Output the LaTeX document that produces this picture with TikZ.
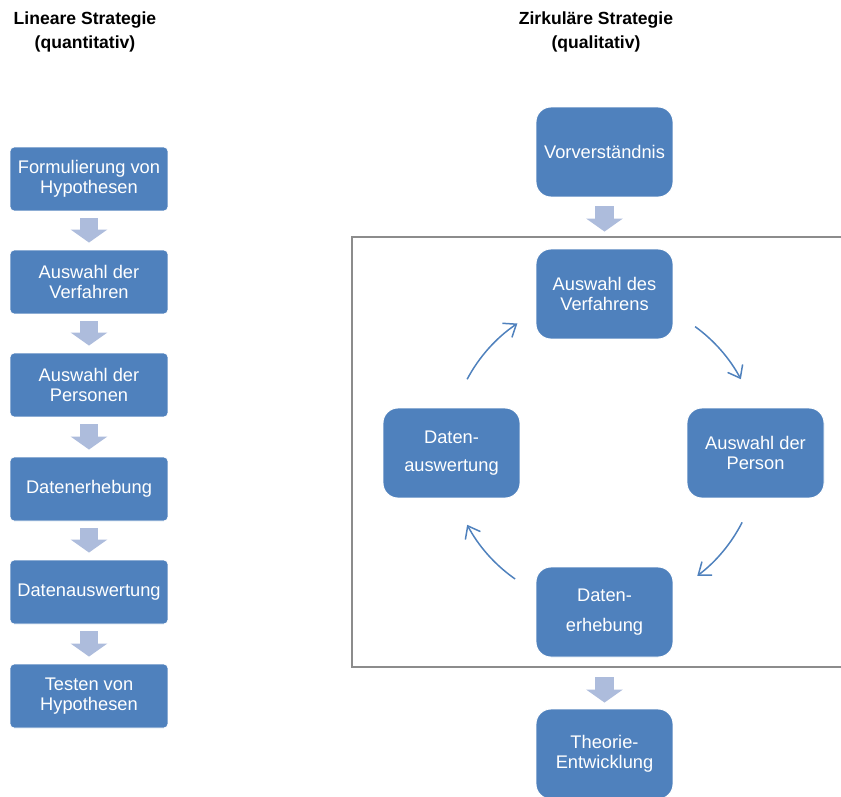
\documentclass[tikz,border=0pt]{standalone}
\usepackage{fontspec}
\setmainfont{Liberation Sans}
\usetikzlibrary{arrows.meta}
\definecolor{boxblue}{HTML}{4F81BD}
\definecolor{arrowblue}{HTML}{ADBCDC}
\definecolor{framegray}{HTML}{8C8C8C}

\begin{document}
\begin{tikzpicture}[x=0.02cm, y=0.02cm, >={Straight Barb[length=2.2mm, width=3.4mm]},
    linbox/.style={draw=white, line width=0.5pt, fill=boxblue, text=white, rounded corners=0.08cm,
        minimum width=3.16cm, minimum height=1.28cm, inner sep=0pt, align=center,
        font=\fontsize{10.4}{11.2}\selectfont},
    cycbox/.style={linbox, rounded corners=0.3cm, minimum width=2.74cm, minimum height=1.8cm},
    blockarrow/.style={draw=arrowblue, line width=0.38cm, -{Triangle[length=0.26cm, width=0.72cm]},
        shorten <=0.14cm, shorten >=0.14cm},
    cycarrow/.style={->, boxblue, line width=0.85pt},
    title/.style={align=center, font=\bfseries\fontsize{10}{13.6}\selectfont}
]
    \clip (0,0) rectangle (841,796);

    % Headings
    \node[title] (linhead) at (85,764) {Lineare Strategie\\(quantitativ)};
    \node[title] (cychead) at (596,764) {Zirkuläre Strategie\\(qualitativ)};

    % Linear strategy, top to bottom
    \node[linbox] (hypo)  at (89,617) {Formulierung von\\Hypothesen};
    \node[linbox] (verf)  at (89,514) {Auswahl der\\Verfahren};
    \node[linbox] (pers)  at (89,411) {Auswahl der\\Personen};
    \node[linbox] (erheb) at (89,307) {Datenerhebung};
    \node[linbox] (ausw)  at (89,204) {Datenauswertung};
    \node[linbox] (test)  at (89,100) {Testen von\\Hypothesen};
    \foreach \a/\b in {hypo/verf, verf/pers, pers/erheb, erheb/ausw, ausw/test}
        \draw[blockarrow] (\a) -- (\b);

    % Circular strategy
    \draw[framegray, line width=0.85pt] (352,129) rectangle (900,559);
    \node[cycbox] (vorv)   at (604.5,644) {Vorverständnis};
    \node[cycbox] (cverf)  at (604.5,502) {Auswahl des\\Verfahrens};
    \node[cycbox] (cpers)  at (755.5,343) {Auswahl der\\Person};
    \node[cycbox] (cerheb) at (604.5,184) {Daten-\\[5.5pt]erhebung};
    \node[cycbox] (causw)  at (451.5,343) {Daten-\\[4.5pt]auswertung};
    \node[cycbox] (theo)   at (604.5,42) {Theorie-\\Entwicklung};
    \draw[blockarrow, shorten <=0.18cm, shorten >=0.34cm] (vorv) -- (cverf);
    \draw[blockarrow, shorten <=0.4cm, shorten >=0.12cm] (cerheb) -- (theo);

    % Cycle arrows
    \coordinate (ring) at (604,344);
    \foreach \s/\e in {54/28, -27/-53, -125/-152, 152/124}
        \draw[cycarrow] ([shift={(\s:155)}]ring) arc[start angle=\s, end angle=\e, radius=155];
\end{tikzpicture}
\end{document}
